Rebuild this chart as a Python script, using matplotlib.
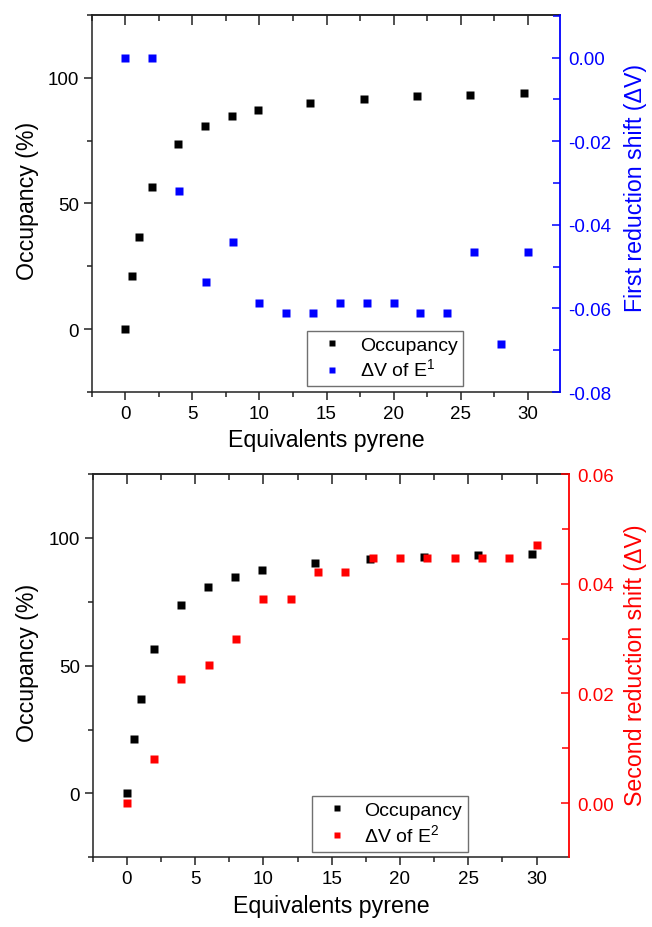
import numpy as np
from matplotlib import pyplot as plt
from matplotlib.ticker import MultipleLocator, FormatStrFormatter

plt.rcParams['font.family'] = ['Liberation Sans', 'DejaVu Sans']
plt.rcParams['mathtext.fontset'] = 'custom'
plt.rcParams['mathtext.rm'] = 'Liberation Sans'
plt.rcParams['axes.unicode_minus'] = False

# occupancy vs equivalents (same curve in both panels)
x_occ = [0, 0.5, 1, 2, 3.95, 5.93, 7.92, 9.88, 13.8, 17.8, 21.75, 25.7, 29.7]
occupancy = [0, 21.2, 36.8, 56.4, 73.8, 80.9, 84.8, 87.3, 90.0, 91.7, 92.6, 93.3, 93.8]

# first reduction shift
x_e1 = [0, 2, 4, 6, 8, 10, 12, 14, 16, 18, 20, 22, 24, 26, 28, 30]
dv_e1 = [0.0, 0.0, -0.0318, -0.0538, -0.0441, -0.0587, -0.0612, -0.0612,
         -0.0587, -0.0587, -0.0587, -0.0612, -0.0612, -0.0465, -0.0685, -0.0465]

# second reduction shift
x_e2 = [0, 2, 4, 6, 8, 10, 12, 14, 16, 18, 20, 22, 24, 26, 28, 30]
dv_e2 = [0.0, 0.0080, 0.0227, 0.0251, 0.0300, 0.0373, 0.0373, 0.0421,
         0.0421, 0.0446, 0.0446, 0.0446, 0.0446, 0.0446, 0.0446, 0.0471]

tick_fs = 13.5
label_fs = 16.7
ms = 5.4


def make_panel(rect, xs, ys, color, ylim2, major2, ylabel2, leg_label, label2_xy):
    ax = fig.add_axes(rect)
    ax.plot(x_occ, occupancy, 's', color='black', ms=ms, mec='none', label='Occupancy')
    ax.set_xlim(-2.5, 32.4)
    ax.set_ylim(-25, 125)
    ax.xaxis.set_major_locator(MultipleLocator(5))
    ax.xaxis.set_minor_locator(MultipleLocator(2.5))
    ax.yaxis.set_major_locator(MultipleLocator(50))
    ax.yaxis.set_minor_locator(MultipleLocator(25))
    ax.tick_params(which='both', direction='out', labelsize=tick_fs, width=1.1,
                   color='#222222', pad=3)
    ax.tick_params(which='major', length=6)
    ax.tick_params(which='minor', length=3.5)
    ax.spines['right'].set_visible(False)
    for s in ['left', 'top', 'bottom']:
        ax.spines[s].set_linewidth(1.1)
        ax.spines[s].set_color('#222222')
    ax.set_xlabel('Equivalents pyrene', fontsize=label_fs)
    ax.set_ylabel('Occupancy (%)', fontsize=label_fs)
    ax.xaxis.set_label_coords(0.5, -0.095)
    ax.yaxis.set_label_coords(-0.112, 0.51)

    # top ticks point inward
    top = ax.secondary_xaxis('top')
    top.xaxis.set_major_locator(MultipleLocator(5))
    top.xaxis.set_minor_locator(MultipleLocator(2.5))
    top.tick_params(which='both', direction='in', labeltop=False, width=1.1, color='#222222')
    top.tick_params(which='major', length=7)
    top.tick_params(which='minor', length=4.5)
    top.spines['top'].set_linewidth(1.1)
    top.spines['top'].set_color('#222222')

    ax2 = ax.twinx()
    ax2.plot(xs, ys, 's', color=color, ms=ms, mec='none', label=leg_label)
    ax2.set_ylim(*ylim2)
    ax2.yaxis.set_major_locator(MultipleLocator(major2))
    ax2.yaxis.set_minor_locator(MultipleLocator(major2 / 2))
    ax2.yaxis.set_major_formatter(FormatStrFormatter('%.2f'))
    ax2.tick_params(which='both', direction='in', labelsize=tick_fs, color=color,
                    labelcolor=color, width=1.1, pad=6)
    ax2.tick_params(which='major', length=6)
    ax2.tick_params(which='minor', length=5)
    for s in ['left', 'top', 'bottom']:
        ax2.spines[s].set_visible(False)
    ax2.spines['right'].set_color(color)
    ax2.spines['right'].set_linewidth(1.3)
    ax2.set_ylabel(ylabel2, fontsize=label_fs, color=color)
    ax2.yaxis.set_label_coords(*label2_xy)

    h1, l1 = ax.get_legend_handles_labels()
    h2, l2 = ax2.get_legend_handles_labels()
    leg = ax2.legend(h1 + h2, l1 + l2, loc='lower left', bbox_to_anchor=(0.46, 0.015),
                     borderaxespad=0, fontsize=14, handlelength=2.0, handletextpad=0.4,
                     borderpad=0.3, labelspacing=0.2, fancybox=False, markerscale=0.85,
                     framealpha=1)
    leg.get_frame().set_edgecolor('#707070')
    leg.get_frame().set_linewidth(1.0)
    return ax, ax2


fig = plt.figure(figsize=(6.52, 9.28), dpi=100)

make_panel([0.1406, 0.5765, 0.7184, 0.4063], x_e1, dv_e1, '#0000ff', (-0.08, 0.0102), 0.02,
           'First reduction shift (ΔV)', 'ΔV of E$^{\\mathregular{1}}$', (1.137, 0.545))
make_panel([0.1422, 0.0751, 0.7310, 0.4130], x_e2, dv_e2, '#ff0000', (-0.0099, 0.06), 0.02,
           'Second reduction shift (ΔV)', 'ΔV of E$^{\\mathregular{2}}$', (1.115, 0.505))

plt.savefig('out.png', dpi=100)
